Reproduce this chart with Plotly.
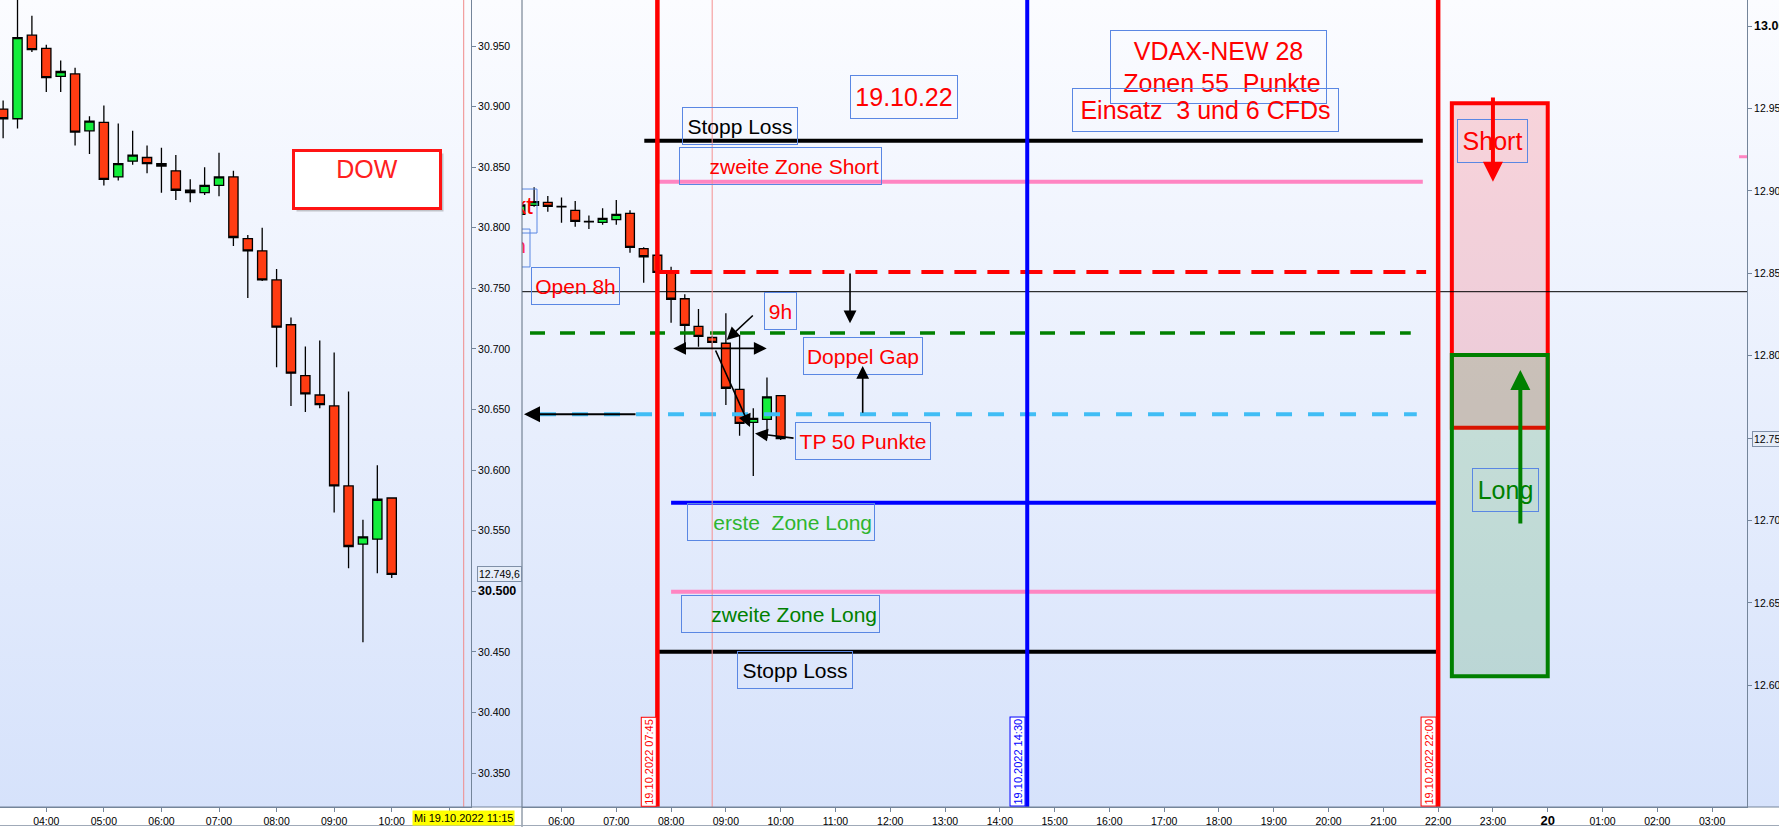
import base64
from datetime import datetime, timedelta
import plotly.graph_objects as go

FONT = "Liberation Sans"
DAY = "2022-10-19"

# ---------------- DOW 15-min candles (left panel) ----------------
dow_time = ["03:15", "03:30", "03:45", "04:00", "04:15", "04:30", "04:45", "05:00", "05:15", "05:30",
            "05:45", "06:00", "06:15", "06:30", "06:45", "07:00", "07:15", "07:30", "07:45", "08:00",
            "08:15", "08:30", "08:45", "09:00", "09:15", "09:30", "09:45", "10:00"]
dow_open = [30898, 30890, 30959, 30948, 30925, 30927, 30880, 30887, 30842, 30855,
            30858, 30851, 30847, 30829, 30829, 30835, 30842, 30791, 30781, 30757,
            30720, 30678, 30662, 30653, 30587, 30539, 30543, 30577]
dow_high = [30905, 30995, 30975, 30951, 30938, 30932, 30892, 30901, 30886, 30880,
            30868, 30866, 30860, 30840, 30850, 30862, 30847, 30794, 30800, 30766,
            30726, 30702, 30707, 30697, 30665, 30559, 30604, 30577]
dow_low = [30874, 30882, 30945, 30912, 30912, 30868, 30861, 30835, 30839, 30852,
           30845, 30829, 30823, 30821, 30827, 30826, 30785, 30742, 30756, 30685,
           30653, 30648, 30651, 30565, 30519, 30458, 30515, 30511]
dow_close = [30890, 30957, 30947, 30924, 30929, 30879, 30888, 30840, 30853, 30860,
             30853, 30853, 30831, 30831, 30835, 30842, 30792, 30781, 30757, 30718,
             30680, 30663, 30654, 30587, 30537, 30545, 30576, 30514]

# ---------------- DAX 15-min candles (right panel) ----------------
dax_time = ["05:15", "05:30", "05:45", "06:00", "06:15", "06:30", "06:45", "07:00", "07:15", "07:30",
            "07:45", "08:00", "08:15", "08:30", "08:45", "09:00", "09:15", "09:30", "09:45", "10:00"]
dax_open = [12885.7, 12891.2, 12893.0, 12890.5, 12888.2, 12881.4, 12880.9, 12882.5, 12886.3, 12864.9,
            12860.9, 12850.3, 12834.5, 12817.8, 12811.0, 12807.5, 12779.5, 12759.5, 12761.3, 12775.7]
dax_high = [12893.0, 12902.1, 12896.8, 12896.0, 12893.8, 12885.1, 12889.4, 12894.4, 12888.2, 12865.7,
            12861.0, 12853.9, 12837.2, 12828.3, 12812.0, 12825.7, 12812.5, 12768.0, 12786.8, 12775.7]
dax_low = [12884.0, 12890.4, 12887.3, 12880.6, 12878.2, 12876.8, 12879.4, 12879.4, 12862.4, 12844.2,
           12850.3, 12820.0, 12807.5, 12805.4, 12803.8, 12770.0, 12751.4, 12727.0, 12749.8, 12748.8]
dax_close = [12891.4, 12893.4, 12890.6, 12890.3, 12881.5, 12881.2, 12883.3, 12885.7, 12865.7, 12860.0,
             12850.5, 12834.2, 12818.4, 12811.7, 12808.0, 12780.2, 12758.9, 12761.9, 12775.0, 12749.6]
dax_last = 12749.6
dax_last_text = "12.749,6"
dax_axis_text = "12.750"

# ---------------- levels (DAX) ----------------
sl_short = 12930.4
zone2_short = 12905.5
gap_top = 12850.7
gap_mid = 12813.7
tp_level = 12764.4
zone1_long = 12710.7
zone2_long = 12656.7
sl_long = 12620.3
ref_line = 12838.8
short_box = [12756.3, 12953.1]
long_box = [12605.4, 12800.4]
axis_mark = 12920.7

# ---------------- ticks ----------------
left_xtick_hours = [4, 5, 6, 7, 8, 9, 10, 11]
left_xtick_text = ["04:00", "05:00", "06:00", "07:00", "08:00", "09:00", "10:00", ""]
right_xtick_hours = [6, 7, 8, 9, 10, 11, 12, 13, 14, 15, 16, 17, 18, 19, 20, 21, 22, 23, 24, 25, 26, 27]
right_xtick_text = ["06:00", "07:00", "08:00", "09:00", "10:00", "11:00", "12:00", "13:00", "14:00",
                    "15:00", "16:00", "17:00", "18:00", "19:00", "20:00", "21:00", "22:00", "23:00",
                    "<b><span style='font-size:13px'>20</span></b>", "01:00", "02:00", "03:00"]
left_ytick_vals = [30350, 30400, 30450, 30500, 30550, 30600, 30650, 30700, 30750, 30800, 30850, 30900, 30950]
left_ytick_text = ["30.350", "30.400", "30.450", "<b><span style='font-size:12.5px'>30.500</span></b>",
                   "30.550", "30.600", "30.650", "30.700", "30.750", "30.800", "30.850", "30.900", "30.950"]
right_ytick_vals = [12600, 12650, 12700, 12750, 12800, 12850, 12900, 12950, 13000]
right_ytick_text = ["12.600", "12.650", "12.700", "", "12.800", "12.850", "12.900", "12.950",
                    "<b><span style='font-size:12.5px'>13.000</span></b>"]


def T(h):
    return (datetime(2022, 10, 19) + timedelta(hours=h)).strftime("%Y-%m-%d %H:%M:%S")


W, H = 1779, 827
LEFT_END = 471 / W
RIGHT_START = 522 / W
RIGHT_END = 1747 / W
YBOT = 20 / H
PLOT_H = H - 20
AXC = "#74859a"
BOX_BORDER = "#5a87e3"

GREEN = "#14ee3c"
ORANGE = "#ff3c12"

fig = go.Figure()
fig.add_trace(go.Candlestick(
    x=[f"{DAY} {t}" for t in dow_time], open=dow_open, high=dow_high, low=dow_low, close=dow_close,
    xaxis="x", yaxis="y", whiskerwidth=0, hoverinfo="none",
    increasing=dict(fillcolor=GREEN, line=dict(color="black", width=1.3)),
    decreasing=dict(fillcolor=ORANGE, line=dict(color="black", width=1.3))))
fig.add_trace(go.Candlestick(
    x=[f"{DAY} {t}" for t in dax_time], open=dax_open, high=dax_high, low=dax_low, close=dax_close,
    xaxis="x2", yaxis="y2", whiskerwidth=0, hoverinfo="none",
    increasing=dict(fillcolor=GREEN, line=dict(color="black", width=1.3)),
    decreasing=dict(fillcolor=ORANGE, line=dict(color="black", width=1.3))))
# labels cut by the left edge of the right panel
fig.add_trace(go.Scatter(x=[T(5.48)], y=[12889.6], mode="text", text=["Punkt"], textposition="middle left",
                         textfont=dict(color="red", size=24, family=FONT), xaxis="x2", yaxis="y2",
                         cliponaxis=True, hoverinfo="skip"))
fig.add_trace(go.Scatter(x=[T(5.352)], y=[12865.3], mode="text", text=["Close 22h"], textposition="middle left",
                         textfont=dict(color="#ff2a5a", size=21, family=FONT), xaxis="x2", yaxis="y2",
                         cliponaxis=True, hoverinfo="skip"))

shapes = []
# zone boxes
shapes.append(dict(type="rect", xref="x2", yref="y2", x0=T(22.25), x1=T(24.0), y0=short_box[0], y1=short_box[1],
                   fillcolor="rgba(255,30,40,0.17)", line=dict(color="#ff0000", width=4)))
shapes.append(dict(type="rect", xref="x2", yref="y2", x0=T(22.25), x1=T(24.0), y0=long_box[0], y1=long_box[1],
                   fillcolor="rgba(0,128,0,0.15)", line=dict(color="#008000", width=4)))
# partial boxes at left edge
shapes.append(dict(type="rect", xref="x2", yref="y2", x0=T(4.5), x1=T(5.553), y0=12874.4, y1=12901.1,
                   line=dict(color=BOX_BORDER, width=1)))
shapes.append(dict(type="rect", xref="x2", yref="y2", x0=T(4.5), x1=T(5.425), y0=12853.8, y1=12876.8,
                   line=dict(color=BOX_BORDER, width=1)))
# thin reference line
shapes.append(dict(type="line", xref="x2 domain", yref="y2", x0=0, x1=1, y0=ref_line, y1=ref_line,
                   line=dict(color="black", width=1)))
# horizontal levels
hlines = [
    (sl_short, 7.511, 21.72, "black", 4, "solid"),
    (zone2_short, 7.75, 21.72, "#ff85c2", 4, "solid"),
    (gap_top, 7.75, 21.78, "#ff0000", 4, "22px,11px"),
    (gap_mid, 5.425, 21.5, "#008000", 3.5, "15px,15px"),
    (tp_level, 5.608, 21.61, "#40bdf5", 4, "16px,16px"),
    (zone1_long, 8.0, 22.0, "#0000ff", 4, "solid"),
    (zone2_long, 8.0, 22.0, "#ff85c2", 4, "solid"),
    (sl_long, 7.75, 22.0, "black", 4, "solid"),
]
# vertical lines
vlines = [(7.75, "#ff0000", 4.5), (8.75, "#f59090", 1), (14.5, "#0000ff", 4), (22.0, "#ff0000", 4.5)]

ann = []


def arrow(h_tip, p_tip, h_tail, p_tail, color="black", width=1.6, size=1.6, side="end"):
    d = dict(xref="x2", yref="y2", x=T(h_tip), y=p_tip, axref="x2", ayref="y2", ax=T(h_tail), ay=p_tail,
             showarrow=True, arrowhead=2, arrowsize=size, arrowwidth=width, arrowcolor=color,
             arrowside=side, text="", standoff=0)
    if "start" in side:
        d.update(startarrowhead=2, startarrowsize=size, startstandoff=0)
    return d


# the left arrow lies underneath the blue dashed TP line
ann.append(arrow(5.316, tp_level, 7.378, tp_level, width=2))

for p, h0, h1, c, w, d in hlines:
    shapes.append(dict(type="line", xref="x2", yref="y2", x0=T(h0), x1=T(h1), y0=p, y1=p,
                       line=dict(color=c, width=w, dash=d)))
for h, c, w in vlines:
    shapes.append(dict(type="line", xref="x2", yref="y2 domain", x0=T(h), x1=T(h), y0=0, y1=1,
                       line=dict(color=c, width=w)))
shapes.append(dict(type="line", xref="x", yref="y domain", x0=T(11.25), x1=T(11.25), y0=0, y1=1,
                   line=dict(color="#f08a8a", width=1)))
# marker on right axis
shapes.append(dict(type="line", xref="x2 domain", yref="y2", x0=0.9935, x1=1, y0=axis_mark, y1=axis_mark,
                   line=dict(color="#ff85c2", width=3)))
# panel separators / borders
shapes.append(dict(type="line", xref="paper", yref="paper", x0=RIGHT_START, x1=RIGHT_START, y0=0, y1=1,
                   line=dict(color="#5e6e80", width=1)))
shapes.append(dict(type="line", xref="paper", yref="paper", x0=0, x1=1, y0=YBOT, y1=YBOT,
                   line=dict(color=AXC, width=1)))
shapes.append(dict(type="line", xref="paper", yref="paper", x0=0, x1=1, y0=1.5 / H, y1=1.5 / H,
                   line=dict(color="#a0aab8", width=1)))


def box(text, h, price, w, hgt, color, size, align="center", pad=2):
    return dict(xref="x2", yref="y2", x=T(h), y=price, xanchor="left", yanchor="top", text=text,
                showarrow=False, font=dict(color=color, size=size, family=FONT),
                bordercolor=BOX_BORDER, borderwidth=1, borderpad=pad,
                width=w - 2 * (pad + 1), height=hgt - 2 * (pad + 1), align=align, valign="middle")


ann += [
    box("Stopp Loss", 8.205, 12951.0, 116, 38, "black", 21),
    box("zweite Zone Short", 8.145, 12926.6, 203, 38, "#ff0000", 21, "right"),
    box("19.10.22", 11.271, 12970.1, 108, 44, "#ff0000", 25),
    box("VDAX-NEW 28<br> Zonen 55\u00a0 Punkte", 16.016, 12997.6, 217, 74, "#ff0000", 25),
    box("Einsatz\u00a0 3 und 6 CFDs", 15.312, 12962.2, 267, 44, "#ff0000", 25),
    box("Open 8h", 5.449, 12853.6, 89, 38, "#ff0000", 21),
    box("9h", 9.701, 12838.8, 33, 38, "#ff0000", 21),
    box("Doppel Gap", 10.413, 12811.5, 120, 38, "#ff0000", 21),
    box("TP 50 Punkte", 10.267, 12759.5, 136, 38, "#ff0000", 21),
    box("erste\u00a0 Zone Long", 8.296, 12710.7, 188, 38, "#2fb52f", 21, "right"),
    box("zweite Zone Long", 8.187, 12654.6, 199, 38, "#008000", 21, "right"),
    box("Stopp Loss", 9.209, 12620.9, 116, 38, "black", 21),
    box("Short", 22.35, 12943.4, 71, 44, "#ff0000", 25),
    box("Long", 22.623, 12731.6, 67, 44, "#008000", 25),
]

ann += [
    arrow(23.0, 12905.5, 23.0, 12957.5, "#ff0000", 4, 1.0),
    arrow(23.5, 12791.3, 23.5, 12697.2, "#008000", 4, 1.0),
    arrow(11.266, 12819.6, 11.266, gap_top),
    arrow(11.497, 12793.7, 11.497, tp_level),
    arrow(9.015, 12809.5, 9.519, 12825.2),
    arrow(9.745, 12804.4, 8.011, 12804.4, side="end+start"),
    arrow(9.44, 12756.7, 8.80, 12804.0),
    arrow(9.532, 12752.8, 10.262, 12749.8),
]

# vertical date labels
for h, txt, c in [(7.593, "19.10.2022 07:45", "#ff0000"), (14.323, "19.10.2022 14:30", "#0000ff"),
                  (21.825, "19.10.2022 22:00", "#ff0000")]:
    ann.append(dict(xref="x2", yref="y2 domain", x=T(h), y=0, xanchor="center", yanchor="bottom", text=txt,
                    textangle=-90, showarrow=False, font=dict(color=c, size=11, family=FONT),
                    bgcolor="white", bordercolor=c, borderwidth=1, borderpad=1))

# DOW label with shadow
for shadow in (True, False):
    pad, bw = 3, 3
    ann.append(dict(xref="x", yref="y", x=T(8.263), y=30865.2, xanchor="left", yanchor="top",
                    text="" if shadow else "DOW", showarrow=False,
                    font=dict(color="#ff2020", size=25, family=FONT),
                    bgcolor="rgba(80,80,80,0.3)" if shadow else "white",
                    bordercolor="rgba(0,0,0,0)" if shadow else "#ff1414", borderwidth=bw, borderpad=pad,
                    width=150 - 2 * (pad + bw), height=61 - 2 * (pad + bw), valign="top",
                    xshift=3 if shadow else 0, yshift=-3 if shadow else 0))

# price boxes on axes (axis-domain references so that they never push the margins)
ann.append(dict(xref="x domain", yref="y", x=476.5 / 471, y=dow_close[-1], xanchor="left", yanchor="middle",
                text=dax_last_text, showarrow=False, font=dict(color="black", size=10.5, family=FONT),
                bgcolor="#e6edf8", bordercolor="#8090a8", borderwidth=1, borderpad=1))
ann.append(dict(xref="x2 domain", yref="y2", x=1230 / 1225, y=dax_last, xanchor="left", yanchor="middle",
                text=dax_axis_text, showarrow=False, font=dict(color="black", size=10.5, family=FONT),
                bgcolor="#e6edf8", bordercolor="#8090a8", borderwidth=1, borderpad=1))
# current time label
ann.append(dict(xref="x", yref="y domain", x=T(11.25), y=-11.5 / PLOT_H, xanchor="center", yanchor="middle",
                text="Mi 19.10.2022 11:15", showarrow=False, font=dict(color="black", size=11, family=FONT),
                bgcolor="#ffff00", borderpad=1))

svg = ("<svg xmlns='http://www.w3.org/2000/svg' width='4' height='100' viewBox='0 0 4 100' "
       "preserveAspectRatio='none'><defs><linearGradient id='g' x1='0' y1='0' x2='0' y2='1'>"
       "<stop offset='0' stop-color='#fbfcff'/><stop offset='1' stop-color='#d6e2fb'/>"
       "</linearGradient></defs><rect width='4' height='100' fill='url(#g)'/></svg>")
uri = "data:image/svg+xml;base64," + base64.b64encode(svg.encode()).decode()

axis_common = dict(showgrid=False, zeroline=False, showline=True, linecolor=AXC, linewidth=1,
                   ticks="outside", tickcolor=AXC, ticklen=4, fixedrange=True, automargin=False,
                   tickfont=dict(color="black", size=10.5, family=FONT))

fig.update_layout(
    width=W, height=H, margin=dict(l=0, r=0, t=0, b=0, autoexpand=False),
    paper_bgcolor="white", plot_bgcolor="rgba(0,0,0,0)",
    showlegend=False, hovermode=False, boxgap=0.08, separators=",.",
    font=dict(family=FONT),
    images=[dict(source=uri, xref="paper", yref="paper", x=0, y=1, sizex=1, sizey=1 - YBOT,
                 sizing="stretch", xanchor="left", yanchor="top", layer="below")],
    xaxis=dict(domain=[0, LEFT_END], anchor="y", type="date", range=[T(3.196), T(11.377)],
               tickvals=[T(h) for h in left_xtick_hours], ticktext=left_xtick_text,
               rangeslider=dict(visible=False), **axis_common),
    yaxis=dict(domain=[YBOT, 1], anchor="x", side="right", range=[30322, 30988],
               tickvals=left_ytick_vals, ticktext=left_ytick_text, **axis_common),
    xaxis2=dict(domain=[RIGHT_START, RIGHT_END], anchor="y2", type="date", range=[T(5.2789), T(27.637)],
                tickvals=[T(h) for h in right_xtick_hours], ticktext=right_xtick_text,
                rangeslider=dict(visible=False), **axis_common),
    yaxis2=dict(domain=[YBOT, 1], anchor="x2", side="right", range=[12526.1, 13015.8],
                tickvals=right_ytick_vals, ticktext=right_ytick_text, **axis_common),
    shapes=shapes, annotations=ann,
)

post = ("document.documentElement.style.margin='0';document.body.style.margin='0';"
        "document.documentElement.style.overflow='hidden';document.body.style.overflow='hidden';")

fig.write_html("out.html", post_script=post,
               config={"displayModeBar": False, "responsive": False, "staticPlot": True})
